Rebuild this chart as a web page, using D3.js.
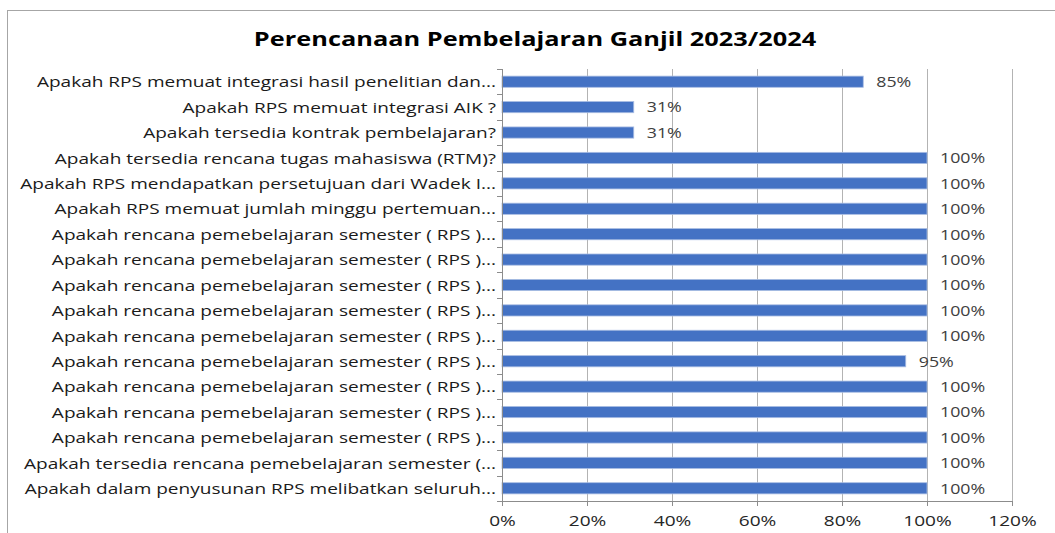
<!DOCTYPE html>
<html>
<head>
<meta charset="utf-8">
<script src="https://cdn.jsdelivr.net/npm/d3@7/dist/d3.min.js"></script>
<style>
  body { margin: 0; background: #fff; }
  text { font-family: "Open Sans", sans-serif; }
</style>
</head>
<body>
<div id="chart"></div>
<script>
// Data
var title = "Perencanaan Pembelajaran Ganjil 2023/2024";
var rps = "Apakah rencana pemebelajaran semester ( RPS )...";
var categories = [
  "Apakah RPS memuat integrasi hasil penelitian dan...",
  "Apakah RPS memuat integrasi AIK ?",
  "Apakah tersedia kontrak pembelajaran?",
  "Apakah tersedia rencana tugas mahasiswa (RTM)?",
  "Apakah RPS mendapatkan persetujuan dari Wadek I...",
  "Apakah RPS memuat jumlah minggu pertemuan...",
  rps, rps, rps, rps, rps, rps, rps, rps, rps,
  "Apakah tersedia rencana pemebelajaran semester (...",
  "Apakah dalam penyusunan RPS melibatkan seluruh..."
];
var values = [0.85, 0.31, 0.31, 1, 1, 1, 1, 1, 1, 1, 1, 0.95, 1, 1, 1, 1, 1];
var xTicks = [0, 0.2, 0.4, 0.6, 0.8, 1, 1.2];

var W = 1055, H = 533;
var margin = {top: 69, right: 43, bottom: 32, left: 502};
var stretch = 1.27; // the original picture's text is wider than it is tall

var svg = d3.select("#chart").append("svg")
    .attr("width", W)
    .attr("height", H);

function place(px, py, k) {
    return "translate(" + px + "," + py + ") scale(" + (k || stretch) + ",1)";
}

// chart frame (runs off the right and bottom edge)
svg.append("rect")
    .attr("x", 7.5).attr("y", 10.5)
    .attr("width", 1100).attr("height", 600)
    .attr("fill", "none")
    .attr("stroke", "#a6a6a6");

svg.append("text")
    .attr("transform", place(535, 46, 1.3))
    .attr("text-anchor", "middle")
    .attr("font-size", 19.5)
    .attr("font-weight", "bold")
    .attr("fill", "#000")
    .text(title);

var x = d3.scaleLinear()
    .domain([0, 1.2])
    .range([margin.left, W - margin.right]);

var y = d3.scaleBand()
    .domain(d3.range(categories.length))
    .range([margin.top, H - margin.bottom])
    .paddingInner(0.56)
    .paddingOuter(0.28);

// gridlines
svg.append("g").selectAll("line")
    .data(xTicks.slice(1))
    .enter().append("line")
    .attr("x1", function(d) { return Math.round(x(d)) + 0.5; })
    .attr("x2", function(d) { return Math.round(x(d)) + 0.5; })
    .attr("y1", margin.top)
    .attr("y2", H - margin.bottom)
    .attr("stroke", "#b3b3b3");

// bars
svg.append("g").selectAll("rect")
    .data(values)
    .enter().append("rect")
    .attr("x", x(0))
    .attr("y", function(d, i) { return y(i); })
    .attr("width", function(d) { return x(d) - x(0); })
    .attr("height", y.bandwidth())
    .attr("fill", "#4472c4")
    .attr("stroke", "#a9bde3")
    .attr("stroke-width", 0.8);

// value labels
svg.append("g").selectAll("text")
    .data(values)
    .enter().append("text")
    .attr("transform", function(d, i) { return place(x(d) + 13, y(i) + y.bandwidth() / 2); })
    .attr("dy", "0.38em")
    .attr("font-size", 14)
    .attr("fill", "#404040")
    .text(function(d) { return d3.format(".0%")(d); });

// x axis
var xAxis = svg.append("g")
    .attr("transform", "translate(0," + (H - margin.bottom) + ")")
    .call(d3.axisBottom(x).tickValues(xTicks).tickFormat(d3.format(".0%")).tickSize(5).tickSizeOuter(0));
xAxis.select(".domain").attr("stroke", "#8c8c8c");
xAxis.selectAll(".tick line").attr("stroke", "#8c8c8c");
xAxis.selectAll(".tick text")
    .attr("font-size", 15)
    .attr("font-family", "Open Sans, sans-serif")
    .attr("fill", "#262626")
    .attr("y", null)
    .attr("transform", place(0, 14));

// y axis line + ticks at category boundaries
var yAxis = svg.append("g");
yAxis.append("line")
    .attr("x1", x(0) + 0.5).attr("x2", x(0) + 0.5)
    .attr("y1", margin.top).attr("y2", H - margin.bottom)
    .attr("stroke", "#8c8c8c");
yAxis.selectAll(".ytick")
    .data(d3.range(categories.length + 1))
    .enter().append("line")
    .attr("class", "ytick")
    .attr("x1", x(0) - 5).attr("x2", x(0))
    .attr("y1", function(i) { return Math.round(margin.top + i * y.step()) + 0.5; })
    .attr("y2", function(i) { return Math.round(margin.top + i * y.step()) + 0.5; })
    .attr("stroke", "#8c8c8c");

// category labels
svg.append("g").selectAll("text")
    .data(categories)
    .enter().append("text")
    .attr("transform", function(d, i) { return place(x(0) - 6, y(i) + y.bandwidth() / 2); })
    .attr("dy", "0.38em")
    .attr("text-anchor", "end")
    .attr("font-size", 15)
    .attr("fill", "#1a1a1a")
    .text(function(d) { return d; });
</script>
</body>
</html>
